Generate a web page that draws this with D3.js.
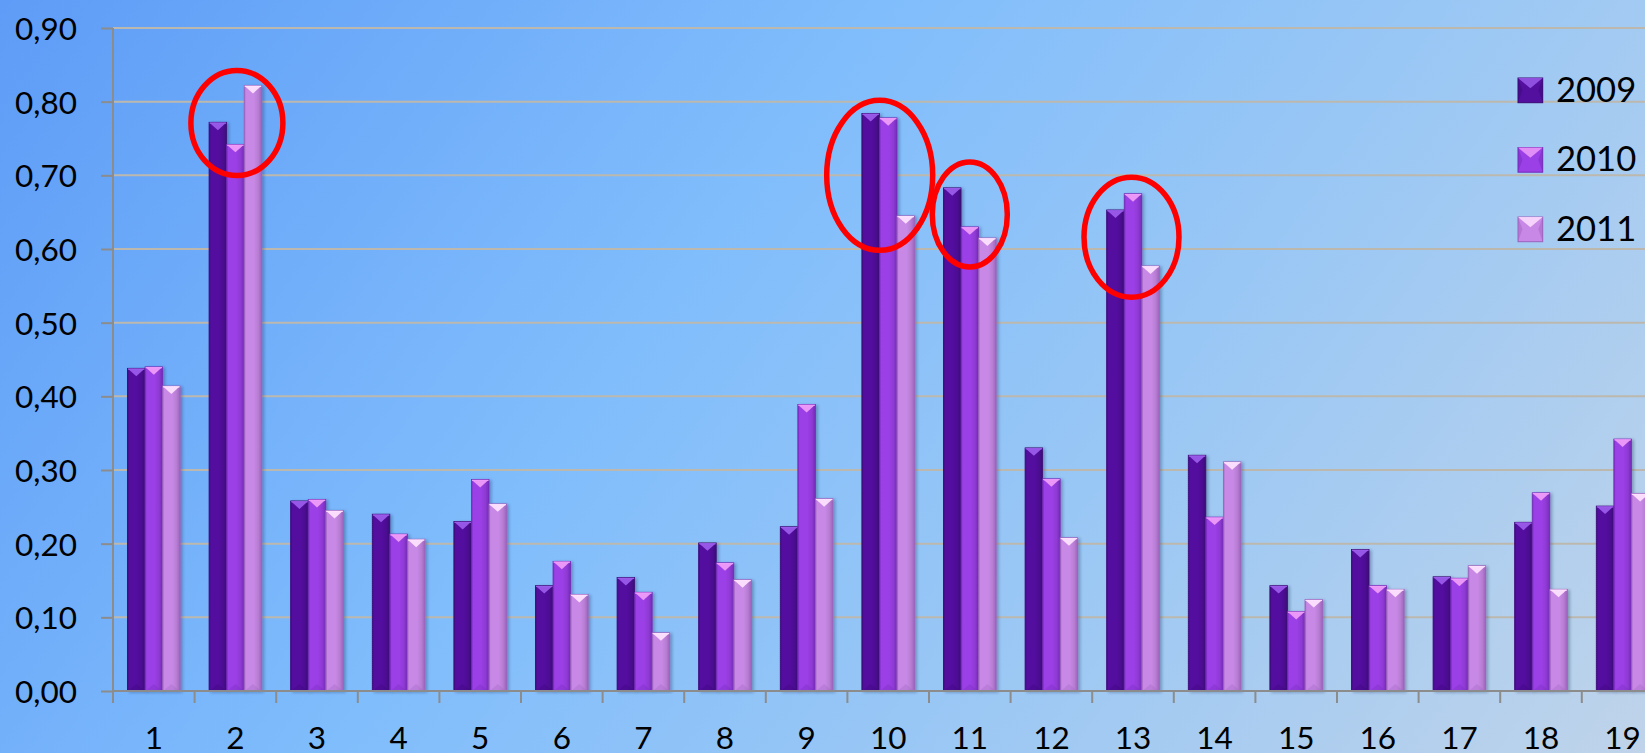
<!DOCTYPE html>
<html>
<head>
<meta charset="utf-8">
<script src="https://d3js.org/d3.v7.min.js"></script>
<style>
  html, body { margin: 0; padding: 0; overflow: hidden; }
  svg { display: block; }
</style>
</head>
<body>
<div id="chart"></div>
<script>
// chart values
var categories = ["1", "2", "3", "4", "5", "6", "7", "8", "9", "10",
                  "11", "12", "13", "14", "15", "16", "17", "18", "19"];
var years = ["2009", "2010", "2011"];
var values2009 = [0.438, 0.772, 0.258, 0.240, 0.230, 0.143, 0.154, 0.201, 0.223, 0.784,
                  0.683, 0.330, 0.653, 0.320, 0.143, 0.192, 0.155, 0.229, 0.251];
var values2010 = [0.440, 0.742, 0.260, 0.213, 0.287, 0.176, 0.134, 0.174, 0.389, 0.778,
                  0.630, 0.288, 0.675, 0.236, 0.108, 0.143, 0.153, 0.269, 0.342];
var values2011 = [0.414, 0.822, 0.245, 0.206, 0.254, 0.131, 0.079, 0.151, 0.261, 0.645,
                  0.615, 0.208, 0.577, 0.311, 0.124, 0.138, 0.170, 0.138, 0.268];
var yTicks = [0, 0.1, 0.2, 0.3, 0.4, 0.5, 0.6, 0.7, 0.8, 0.9];

// red rings drawn over the chart: category and the value at the ring centre
var ringCategories = ["2", "10", "11", "13"];
var ringCentres = [0.771, 0.700, 0.647, 0.616];

(function() {
    var width = 1645,
        height = 753;

    var left = 113,
        step = 81.6,
        base = 691,
        top = 28;

    var series = [values2009, values2010, values2011];

    var palette = [
        {fill: "#53109f", light: "#9a5cea", dark: "#3a0876"},
        {fill: "#9b3fe6", light: "#ee9cf9", dark: "#742ab8"},
        {fill: "#c889e6", light: "#fde0fe", dark: "#9d62bd"}
    ];

    var svg = d3.select("#chart")
        .append("svg")
        .attr("width", width)
        .attr("height", height);

    var defs = svg.append("defs");

    var bg = defs.append("linearGradient")
        .attr("id", "bg")
        .attr("gradientUnits", "userSpaceOnUse")
        .attr("x1", 0).attr("y1", 0)
        .attr("x2", width).attr("y2", 1200);
    [["0", "#5e9cf7"], ["0.35", "#80bdfc"], ["0.6", "#9cc8f4"], ["1", "#d0d9e5"]]
        .forEach(function(s) {
            bg.append("stop").attr("offset", s[0]).attr("stop-color", s[1]);
        });

    // side shading across each bar
    palette.forEach(function(p, i) {
        var g = defs.append("linearGradient")
            .attr("id", "side" + i)
            .attr("x1", 0).attr("x2", 1).attr("y1", 0).attr("y2", 0);
        g.append("stop").attr("offset", "0").attr("stop-color", p.dark);
        g.append("stop").attr("offset", "0.1").attr("stop-color", p.fill);
        g.append("stop").attr("offset", "0.55").attr("stop-color", p.fill);
        g.append("stop").attr("offset", "0.8").attr("stop-color", d3.color(p.fill).darker(0.25));
        g.append("stop").attr("offset", "1").attr("stop-color", p.dark);
    });

    var shadow = defs.append("filter")
        .attr("id", "shadow")
        .attr("x", "-30%").attr("y", "-5%")
        .attr("width", "160%").attr("height", "110%");
    shadow.append("feDropShadow")
        .attr("dx", 2).attr("dy", 1)
        .attr("stdDeviation", 1.6)
        .attr("flood-color", "#1a2a55")
        .attr("flood-opacity", 0.35);

    svg.append("rect")
        .attr("width", width)
        .attr("height", height)
        .attr("fill", "url(#bg)");

    var x = d3.scaleBand()
        .domain(categories)
        .range([left, left + step * categories.length])
        .paddingInner(0.355)
        .paddingOuter(0.1775);

    var xs = d3.scaleBand()
        .domain(years)
        .range([0, x.bandwidth()]);

    var y = d3.scaleLinear()
        .domain([0, 0.9])
        .range([base, top]);

    var fmt = d3.formatLocale({decimal: ",", thousands: ".", grouping: [3], currency: ["", ""]})
        .format(".2f");

    // gridlines
    svg.append("g")
        .selectAll("line")
        .data(yTicks.slice(1))
        .enter().append("line")
        .attr("x1", left).attr("x2", width)
        .attr("y1", function(d) { return y(d) })
        .attr("y2", function(d) { return y(d) })
        .attr("stroke", "#bdb8ae")
        .attr("stroke-width", 2);

    // y axis
    var yAxis = svg.append("g")
        .attr("transform", "translate(" + left + ",0)")
        .call(d3.axisLeft(y).tickValues(yTicks).tickFormat(fmt).tickSize(12).tickPadding(24));
    yAxis.select(".domain").attr("stroke", "#8c8c8c").attr("stroke-width", 2)
        .attr("d", "M0," + top + "V" + (base + 12));
    yAxis.selectAll(".tick line").attr("stroke", "#8c8c8c").attr("stroke-width", 2);
    yAxis.selectAll(".tick text")
        .attr("fill", "#000")
        .attr("font-family", "Lato")
        .attr("font-size", 31.5)
        .attr("dy", "0.36em");

    // bars
    var groups = svg.append("g")
        .selectAll("g")
        .data(categories)
        .enter().append("g")
        .attr("transform", function(d) { return "translate(" + x(d) + ",0)" });

    var bars = groups.selectAll(".bar")
        .data(function(d, i) {
            return years.map(function(yr, k) {
                return {year: yr, k: k, value: series[k][i]};
            });
        })
        .enter().append("g")
        .attr("class", "bar");

    bars.append("rect")
        .attr("x", function(d) { return xs(d.year) })
        .attr("y", function(d) { return y(d.value) })
        .attr("width", xs.bandwidth())
        .attr("height", function(d) { return base - y(d.value) })
        .attr("fill", function(d) { return "url(#side" + d.k + ")" })
        .attr("stroke", function(d) { return palette[d.k].dark })
        .attr("stroke-width", 0.8)
        .attr("filter", "url(#shadow)");

    // bevel facet on the top of each bar
    bars.append("path")
        .attr("d", function(d) {
            var x0 = xs(d.year) + 0.5, x1 = xs(d.year) + xs.bandwidth() - 0.5,
                y0 = y(d.value) + 0.5, w = x1 - x0;
            return "M" + x0 + "," + y0 + "L" + x1 + "," + y0 +
                "L" + (x0 + w / 2) + "," + (y0 + w * 0.45) + "Z";
        })
        .attr("fill", function(d) { return palette[d.k].light })
        .attr("opacity", 0.95);

    bars.append("line")
        .attr("x1", function(d) { return xs(d.year) + 0.5 })
        .attr("x2", function(d) { return xs(d.year) + xs.bandwidth() - 0.5 })
        .attr("y1", function(d) { return y(d.value) + 0.8 })
        .attr("y2", function(d) { return y(d.value) + 0.8 })
        .attr("stroke", function(d) { return palette[d.k].light })
        .attr("stroke-width", 1.2);

    // faint facet at the foot of each bar
    bars.append("path")
        .attr("d", function(d) {
            var x0 = xs(d.year) + 0.5, x1 = xs(d.year) + xs.bandwidth() - 0.5,
                w = x1 - x0;
            return "M" + x0 + "," + base + "L" + x1 + "," + base +
                "L" + (x0 + w / 2) + "," + (base - w * 0.42) + "Z";
        })
        .attr("fill", function(d) { return palette[d.k].dark })
        .attr("opacity", 0.3);

    // x axis
    var edges = categories.map(function(c) { return x(c) - x.step() * x.paddingOuter() });
    edges.push(left + step * categories.length);

    svg.append("line")
        .attr("x1", left).attr("x2", width)
        .attr("y1", base).attr("y2", base)
        .attr("stroke", "#8c8c8c")
        .attr("stroke-width", 2);

    svg.append("g")
        .selectAll("line")
        .data(edges)
        .enter().append("line")
        .attr("x1", function(d) { return d }).attr("x2", function(d) { return d })
        .attr("y1", base).attr("y2", base + 12)
        .attr("stroke", "#8c8c8c")
        .attr("stroke-width", 2);

    svg.append("g")
        .selectAll("text")
        .data(categories)
        .enter().append("text")
        .attr("x", function(d) { return x(d) + x.bandwidth() / 2 })
        .attr("y", 749)
        .attr("text-anchor", "middle")
        .attr("font-family", "Lato")
        .attr("font-size", 31.5)
        .attr("fill", "#000")
        .text(function(d) { return d });

    // legend
    var legend = svg.append("g")
        .selectAll("g")
        .data(years)
        .enter().append("g")
        .attr("transform", function(d, i) { return "translate(1518," + (78 + i * 69.5) + ")" });

    var s = 24.7;
    legend.append("rect")
        .attr("width", s).attr("height", s)
        .attr("fill", function(d, i) { return palette[i].fill })
        .attr("stroke", function(d, i) { return palette[i].dark })
        .attr("stroke-width", 1);
    legend.append("path")
        .attr("d", "M0,0L" + s + ",0L" + (s / 2) + "," + (s * 0.42) + "Z")
        .attr("fill", function(d, i) { return palette[i].light })
        .attr("opacity", 0.85);
    legend.append("path")
        .attr("d", "M0,0L" + (s * 0.18) + "," + (s / 2) + "L0," + s + "Z M" + s + ",0L" + (s * 0.82) + "," + (s / 2) + "L" + s + "," + s + "Z")
        .attr("fill", function(d, i) { return palette[i].dark })
        .attr("opacity", 0.45);
    legend.append("text")
        .attr("x", 38)
        .attr("y", 23.7)
        .attr("font-family", "Lato")
        .attr("font-size", 34.6)
        .attr("fill", "#000")
        .text(function(d) { return d });

    // red rings
    var ringRx = [46, 53, 37.5, 47.5],
        ringRy = [52.5, 75, 52.5, 60],
        ringShift = [1.5, -8.5, 0, -1.5];

    svg.append("g")
        .selectAll("ellipse")
        .data(ringCategories)
        .enter().append("ellipse")
        .attr("cx", function(d, i) { return x(d) + x.bandwidth() / 2 + ringShift[i] })
        .attr("cy", function(d, i) { return y(ringCentres[i]) })
        .attr("rx", function(d, i) { return ringRx[i] })
        .attr("ry", function(d, i) { return ringRy[i] })
        .attr("fill", "none")
        .attr("stroke", "#ff0000")
        .attr("stroke-width", 5.5);
})();
</script>
</body>
</html>
